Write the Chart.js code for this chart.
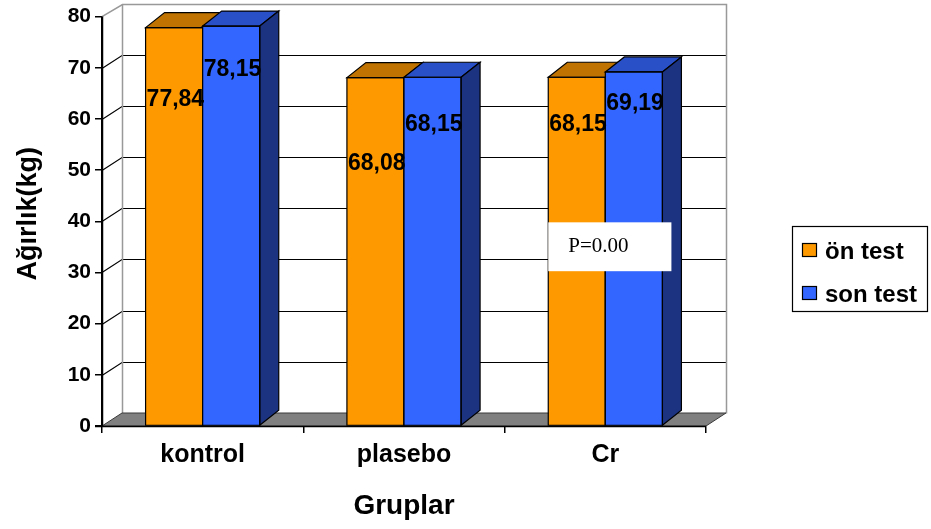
<!DOCTYPE html>
<html>
<head>
<meta charset="utf-8">
<script src="https://cdn.jsdelivr.net/npm/chart.js@4.4.1/dist/chart.umd.min.js"></script>
<style>
  html, body { margin: 0; padding: 0; background: #ffffff; }
  canvas { display: block; }
</style>
</head>
<body>
<canvas id="chart" width="931" height="529"></canvas>
<script>
// Body weight before / after, per group
const groups = ['kontrol', 'plasebo', 'Cr'];
const seriesNames = ['ön test', 'son test'];
const onTest = [77.84, 68.08, 68.15];
const sonTest = [78.15, 68.15, 69.19];
const yTicks = [0, 10, 20, 30, 40, 50, 60, 70, 80];
const yTitle = 'Ağırlık(kg)';
const xTitle = 'Gruplar';
const noteText = 'P=0.00';

// vertical drop (px) of each value label below its bar top
const labelDrop = [[70, 84, 46], [42, 46, 30]];

const FRONT = ['#FF9900', '#3366FF'];
const TOP = ['#C07300', '#2A50C8'];
const SIDE = ['#8A5500', '#1B3380'];

const WALL = { dx: 20, dy: -13 };   // depth of back wall / floor
const DEPTH = { dx: 19, dy: -15 };  // depth of each column

const SANS = '"Liberation Sans", Arial, sans-serif';

function poly(ctx, pts, fill, stroke, lw) {
  ctx.beginPath();
  ctx.moveTo(pts[0][0], pts[0][1]);
  for (let i = 1; i < pts.length; i++) ctx.lineTo(pts[i][0], pts[i][1]);
  ctx.closePath();
  if (fill) { ctx.fillStyle = fill; ctx.fill(); }
  if (stroke) { ctx.strokeStyle = stroke; ctx.lineWidth = lw || 1; ctx.stroke(); }
}
function line(ctx, pts, color, lw) {
  ctx.beginPath();
  ctx.moveTo(pts[0][0], pts[0][1]);
  for (let i = 1; i < pts.length; i++) ctx.lineTo(pts[i][0], pts[i][1]);
  ctx.strokeStyle = color; ctx.lineWidth = lw || 1; ctx.stroke();
}

const scene3d = {
  id: 'scene3d',
  beforeDatasetsDraw(chart) {
    const { ctx, chartArea: a, scales: { x, y } } = chart;
    const L = a.left, R = a.right;
    const yMax = y.getPixelForValue(80), y0 = y.getPixelForValue(0);
    ctx.save();

    // back wall gridlines and side-wall diagonals
    yTicks.forEach(v => {
      if (v === 0 || v === 80) return;
      const py = Math.round(y.getPixelForValue(v)) + 0.5;
      line(ctx, [[L, py], [L + WALL.dx, py + WALL.dy], [R + WALL.dx, py + WALL.dy]], '#000000', 1.2);
    });
    // back wall frame
    const bt = Math.round(yMax + WALL.dy) + 0.5;
    const bb = Math.round(y0 + WALL.dy) + 0.5;
    line(ctx, [[L, yMax], [L + WALL.dx + 0.5, bt], [R + WALL.dx + 0.5, bt], [R + WALL.dx + 0.5, bb]], '#999999', 1.5);
    line(ctx, [[L + WALL.dx + 0.5, bt], [L + WALL.dx + 0.5, bb]], '#999999', 1.5);

    // floor
    poly(ctx, [[L, y0], [L + WALL.dx, y0 + WALL.dy], [R + WALL.dx, y0 + WALL.dy], [R, y0]], '#808080', '#3a3a3a', 1);

    // columns, left to right, front face then top then side
    for (let i = 0; i < groups.length; i++) {
      for (let d = 0; d < 2; d++) {
        const el = chart.getDatasetMeta(d).data[i];
        const l = el.x - el.width / 2, r = el.x + el.width / 2;
        const t = el.y, b = el.base;
        el.draw(ctx);
        poly(ctx, [[l, t], [l + DEPTH.dx, t + DEPTH.dy], [r + DEPTH.dx, t + DEPTH.dy], [r, t]], TOP[d], '#000000', 1.2);
        poly(ctx, [[r, t], [r + DEPTH.dx, t + DEPTH.dy], [r + DEPTH.dx, b + DEPTH.dy], [r, b]], SIDE[d], '#000000', 1.2);
        poly(ctx, [[l, t], [r, t], [r, b], [l, b]], null, '#000000', 1.2);
      }
    }
    // redraw front axis line over the floor corner
    line(ctx, [[L + 0.5, yMax], [L + 0.5, y0 + 1]], '#000000', 1.5);
    line(ctx, [[L - 7, Math.round(y0) + 0.5], [R, Math.round(y0) + 0.5]], '#000000', 1.5);

    // value labels
    ctx.fillStyle = '#000000';
    ctx.font = 'bold 23px ' + SANS;
    ctx.textAlign = 'left';
    ctx.textBaseline = 'alphabetic';
    for (let d = 0; d < 2; d++) {
      const meta = chart.getDatasetMeta(d);
      const vals = chart.data.datasets[d].data;
      meta.data.forEach((el, i) => {
        const l = el.x - el.width / 2;
        const txt = vals[i].toFixed(2).replace('.', ',');
        ctx.fillText(txt, l + 1, el.y + labelDrop[d][i] + 8);
      });
    }
    ctx.restore();
    return false;
  },
  afterDraw(chart) {
    const { ctx, scales: { x, y } } = chart;
    ctx.save();

    // y axis title, rotated
    ctx.translate(36, (y.getPixelForValue(80) + y.getPixelForValue(0)) / 2 - 7.5);
    ctx.rotate(-Math.PI / 2);
    ctx.fillStyle = '#000000';
    ctx.font = 'bold 27px ' + SANS;
    ctx.textAlign = 'center';
    ctx.textBaseline = 'alphabetic';
    ctx.fillText(yTitle, 0, 0);
    ctx.setTransform(1, 0, 0, 1, 0, 0);

    // note box over the Cr columns
    const cr = chart.getDatasetMeta(0).data[2];
    const crB = chart.getDatasetMeta(1).data[2];
    const nl = cr.x - cr.width / 2;
    const nr = crB.x + crB.width / 2 + 9;
    const nt = y.getPixelForValue(39.8), nb = y.getPixelForValue(30.25);
    ctx.fillStyle = '#ffffff';
    ctx.fillRect(nl, nt, nr - nl, nb - nt);
    ctx.fillStyle = '#000000';
    ctx.font = '21px "Liberation Serif", "Times New Roman", serif';
    ctx.textAlign = 'left';
    ctx.fillText(noteText, nl + 20, nt + 30);

    // legend
    const lx = 792.5, ly = 226.5, lw = 135, lh = 85;
    ctx.fillStyle = '#ffffff';
    ctx.fillRect(lx, ly, lw, lh);
    ctx.strokeStyle = '#000000';
    ctx.lineWidth = 1.2;
    ctx.strokeRect(lx, ly, lw, lh);
    ctx.font = 'bold 24px ' + SANS;
    seriesNames.forEach((name, i) => {
      const sy = 243 + i * 43;
      ctx.fillStyle = FRONT[i];
      ctx.fillRect(802.5, sy + 0.5, 14, 13);
      ctx.strokeStyle = '#000000';
      ctx.lineWidth = 1.2;
      ctx.strokeRect(802.5, sy + 0.5, 14, 13);
      ctx.fillStyle = '#000000';
      ctx.fillText(name, 825, sy + 16);
    });
    ctx.restore();
  }
};

new Chart(document.getElementById('chart'), {
  type: 'bar',
  data: {
    labels: groups,
    datasets: [
      { label: seriesNames[0], data: onTest, backgroundColor: FRONT[0], borderColor: '#000000', borderWidth: 0 },
      { label: seriesNames[1], data: sonTest, backgroundColor: FRONT[1], borderColor: '#000000', borderWidth: 0 }
    ]
  },
  options: {
    responsive: false,
    animation: false,
    devicePixelRatio: 1,
    categoryPercentage: 0.567,
    barPercentage: 1.0,
    layout: { padding: { left: 0, right: 225, top: 16, bottom: 0 } },
    plugins: {
      legend: { display: false },
      tooltip: { enabled: false }
    },
    scales: {
      x: {
        offset: true,
        grid: { offset: true, drawOnChartArea: false, drawTicks: true, tickLength: 7, color: '#000000', lineWidth: 1.5 },
        border: { display: true, color: '#000000', width: 1.5 },
        ticks: { color: '#000000', font: { family: SANS, size: 25, weight: 'bold' }, padding: 7, maxRotation: 0 },
        title: { display: true, text: xTitle, color: '#000000', font: { family: SANS, size: 28, weight: 'bold' }, padding: { top: 0, bottom: 6 } },
        afterFit(scale) { scale.height = 103; }
      },
      y: {
        min: 0,
        max: 80,
        afterBuildTicks(scale) { scale.ticks = yTicks.map(v => ({ value: v })); },
        grid: { drawOnChartArea: false, drawTicks: true, tickLength: 7, color: '#000000', lineWidth: 1.5 },
        border: { display: true, color: '#000000', width: 1.5 },
        ticks: { color: '#000000', font: { family: SANS, size: 21, weight: 'bold' }, padding: 4 },
        afterFit(scale) { scale.width = 102; }
      }
    }
  },
  plugins: [scene3d]
});
</script>
</body>
</html>
